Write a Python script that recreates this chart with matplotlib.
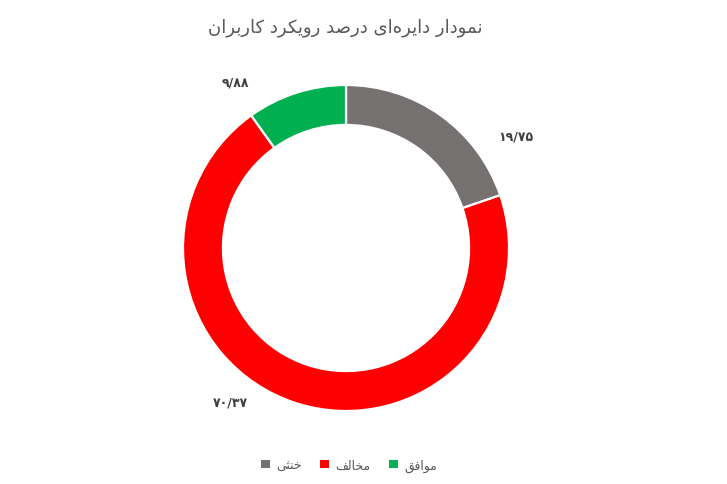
import matplotlib
matplotlib.use("Agg")
import matplotlib.pyplot as plt
from matplotlib.patches import Patch

# ---- data ----
categories = ["خنثی", "مخالف", "موافق"]
values = [19.75, 70.37, 9.88]
colors = ["#767171", "#FF0000", "#00B050"]
title = "نمودار دایره‌ای درصد رویکرد کاربران"

# ---- minimal Persian shaping (matplotlib has no bidi/shaping) ----
FORMS = {  # iso, final, initial, medial
    "\u0627": ("\uFE8D", "\uFE8E", None, None),
    "\u0628": ("\uFE8F", "\uFE90", "\uFE91", "\uFE92"),
    "\u062B": ("\uFE99", "\uFE9A", "\uFE9B", "\uFE9C"),
    "\u062E": ("\uFEA5", "\uFEA6", "\uFEA7", "\uFEA8"),
    "\u062F": ("\uFEA9", "\uFEAA", None, None),
    "\u0631": ("\uFEAD", "\uFEAE", None, None),
    "\u0635": ("\uFEB9", "\uFEBA", "\uFEBB", "\uFEBC"),
    "\u0641": ("\uFED1", "\uFED2", "\uFED3", "\uFED4"),
    "\u0642": ("\uFED5", "\uFED6", "\uFED7", "\uFED8"),
    "\u0644": ("\uFEDD", "\uFEDE", "\uFEDF", "\uFEE0"),
    "\u0645": ("\uFEE1", "\uFEE2", "\uFEE3", "\uFEE4"),
    "\u0646": ("\uFEE5", "\uFEE6", "\uFEE7", "\uFEE8"),
    "\u0647": ("\uFEE9", "\uFEEA", "\uFEEB", "\uFEEC"),
    "\u0648": ("\uFEED", "\uFEEE", None, None),
    "\u06CC": ("\uFBFC", "\uFBFD", "\uFBFE", "\uFBFF"),
    "\u06A9": ("\uFB8E", "\uFB8F", "\uFB90", "\uFB91"),
}


def dual(c):
    return c in FORMS and FORMS[c][2] is not None


def shape(text):
    out = []
    n = len(text)
    for i, c in enumerate(text):
        if c not in FORMS:
            if c != "\u200c":
                out.append(c)
            continue
        prev = text[i - 1] if i > 0 else ""
        nxt = text[i + 1] if i + 1 < n else ""
        cp = dual(prev)
        cn = dual(c) and nxt in FORMS
        idx = (1 if cp else 0) + (2 if cn else 0)
        out.append(FORMS[c][idx])
    return "".join(out[::-1])


def fa_num(v):
    s = f"{v:.2f}".replace(".", "/")
    return s.translate(str.maketrans("0123456789", "۰۱۲۳۴۵۶۷۸۹"))


plt.rcParams["font.family"] = ["DejaVu Sans"]

W, H = 727, 485
fig = plt.figure(figsize=(W / 100, H / 100), dpi=100)
fig.patch.set_facecolor("white")

cx, cy, R = 346, 236, 163
ax = fig.add_axes([(cx - R) / W, (cy - R) / H, 2 * R / W, 2 * R / H])
wedges, _ = ax.pie(values, colors=colors, startangle=90, counterclock=False,
                   radius=1.0,
                   wedgeprops=dict(width=0.245, edgecolor="white", linewidth=1.6))
ax.set_xlim(-1, 1)
ax.set_ylim(-1, 1)
ax.set_aspect("equal")
ax.axis("off")

# data label positions (axes data units)
label_pos = [(1.04, 0.69), (-0.71, -0.945), (-0.68, 1.02)]
for v, (lx, ly) in zip(values, label_pos):
    ax.text(lx, ly, fa_num(v), ha="center", va="center", fontsize=9,
            fontweight="bold", color="#404040", clip_on=False)

fig.text(345 / W, 1 - 28 / H, shape(title), ha="center", va="center",
         fontsize=13, color="#595959")

handles = [Patch(facecolor=c, edgecolor="none") for c in colors]
fig.legend(handles, [shape(c) for c in categories], loc="center",
           bbox_to_anchor=(349 / W, 1 - 466 / H), ncol=3, frameon=False,
           markerfirst=True, fontsize=9, labelcolor="#595959",
           handlelength=0.7, handleheight=0.7, handletextpad=0.5,
           columnspacing=1.5)

fig.savefig("out.png", dpi=100, facecolor="white")
